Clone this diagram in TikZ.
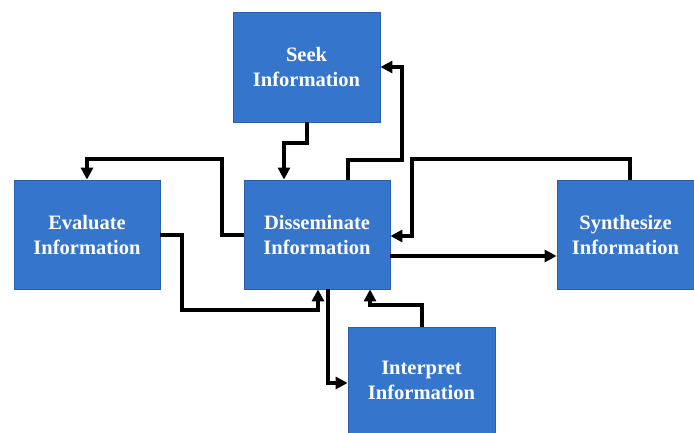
\documentclass[tikz,border=0pt]{standalone}
\usepackage{fontspec}
\setmainfont{Liberation Serif}
\usetikzlibrary{arrows.meta}
\definecolor{boxblue}{RGB}{54,117,204}
\definecolor{boxedge}{RGB}{40,95,175}
\begin{document}
\begin{tikzpicture}[x=1pt,y=-1pt,
  box/.style={rectangle, fill=boxblue, draw=boxedge, line width=0.8pt,
    text=white, font=\bfseries\fontsize{20.5}{25}\selectfont,
    align=center, inner sep=0pt},
  arr/.style={line width=4pt, draw=black, -{Triangle[length=12pt,width=12pt]}}]
\useasboundingbox (0,0) rectangle (694,433);

\node[box, minimum width=147, minimum height=110] (seek) at (306.5,67) {Seek\\Information};
\node[box, minimum width=146, minimum height=109] (eval) at (87,234.5) {Evaluate\\Information};
\node[box, minimum width=146, minimum height=109] (dis) at (317,234.5) {Disseminate\\Information};
\node[box, minimum width=137, minimum height=109] (syn) at (625.5,234.5) {Synthesize\\Information};
\node[box, minimum width=147, minimum height=106] (int) at (421.5,380) {Interpret\\Information};

% Seek -> Disseminate
\draw[arr] (seek.south) -- ++(0,21) -| ([xshift=-33pt]dis.north);
% Disseminate -> Seek
\draw[arr] ([xshift=31pt]dis.north) -- ++(0,-20) -- ++(54,0) |- (seek.east);
% Disseminate -> Evaluate
\draw[arr] (dis.west) -- ++(-22,0) -- ++(0,-75.5) -| (eval.north);
% Evaluate -> Disseminate
\draw[arr] (eval.east) -- ++(22,0) -- ++(0,75.5) -| ([xshift=1pt]dis.south);
% Disseminate -> Interpret
\draw[arr] ([xshift=11pt]dis.south) |- ([yshift=-3pt]int.west);
% Interpret -> Disseminate
\draw[arr] (int.north) -- ++(0,-22) -| ([xshift=53pt]dis.south);
% Synthesize -> Disseminate
\draw[arr] ([xshift=4.5pt]syn.north) -- ++(0,-21) -- ++(-218,0) |- ([yshift=-1.5pt]dis.east);
% Disseminate -> Synthesize
\draw[arr] ([yshift=-21.5pt]dis.east) -- ([yshift=-21.5pt]syn.west);
\end{tikzpicture}
\end{document}
